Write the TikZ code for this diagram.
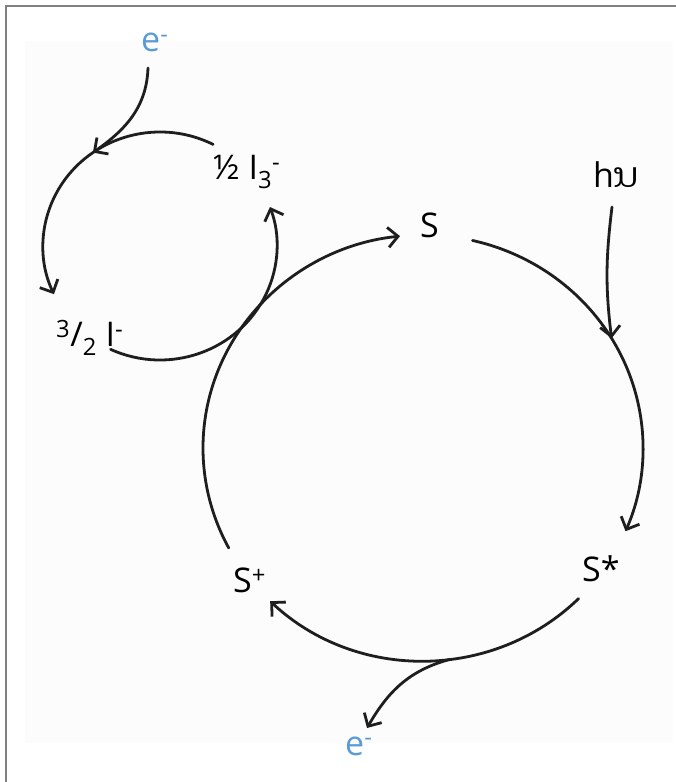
\documentclass[tikz,border=0pt]{standalone}
\usepackage{fontspec}
\setmainfont{Open Sans}
\newfontfamily\laofont[Script=Lao]{Dhyana}
\usepackage{xcolor}
\definecolor{elecblue}{RGB}{91,155,213}
\definecolor{inkgray}{RGB}{30,30,30}
\definecolor{framegray}{RGB}{128,128,128}
\definecolor{paper}{RGB}{252,252,253}
\usetikzlibrary{arrows.meta, calc}

\begin{document}
\begin{tikzpicture}[x=1pt, y=1pt,
        species/.style={inner sep=0pt, anchor=base west, font=\fontsize{34}{41}\selectfont},
        elec/.style={species, text=elecblue},
        cycline/.style={draw=inkgray, line width=2.8pt, line cap=round, -{Straight Barb[length=10pt, width=20pt]}}]

    % Marco y fondo
    \useasboundingbox (0,0) rectangle (676,782);
    \fill[paper] (25,39) rectangle (673,741);
    \draw[framegray, line width=2pt] (6,0) -- (6,776) -- (676,776);

    % Centros de los ciclos
    \coordinate (cmain) at (423,334);
    \coordinate (ciod) at (160,536);

    % Especies
    \node [species] (s) at (420,544) {S};
    \node [species] (hnu) at (593,594) {h{\laofont ນ}};
    \node [species] (sexc) at (582,200) {S*};
    \node [species] (splus) at (233,189) {S\textsuperscript{+}};
    \node [species] (triiod) at (213,602) {½ I\textsubscript{3}\textsuperscript{-}};
    \node [species] (iod) at (56,435) {\textsuperscript{3}/\textsubscript{2} I\textsuperscript{-}};
    \node [elec] (etop) at (141,730) {e\textsuperscript{-}};
    \node [elec] (ebot) at (345,27) {e\textsuperscript{-}};

    % Puntos sobre los ciclos
    \coordinate (mleft) at ($(cmain)+(208:220 and 213)$);
    \coordinate (mright) at ($(cmain)+(77:220 and 213)$);
    \coordinate (mbottom) at ($(cmain)+(-45:220 and 213)$);
    \coordinate (mlight) at ($(cmain)+(31:220 and 213)$);
    \coordinate (mout) at ($(cmain)+(-83:220 and 213)$);
    \coordinate (itop) at ($(ciod)+(63:117 and 114)$);
    \coordinate (ibottom) at ($(ciod)+(245:117 and 114)$);
    \coordinate (iin) at ($(ciod)+(125:117 and 114)$);
    \coordinate (etail) at (148,714);
    \coordinate (hnutail) at (612,575);
    \coordinate (eouttip) at (367,54);

    % Ciclo del colorante
    \draw [cycline] (mleft) arc[start angle=208, end angle=96, x radius=220pt, y radius=213pt];
    \draw [cycline] (mright) arc[start angle=77, end angle=-23, x radius=220pt, y radius=213pt];
    \draw [cycline] (mbottom) arc[start angle=-45, end angle=-134, x radius=220pt, y radius=213pt];

    % Ciclo del yoduro
    \draw [cycline] (itop) arc[start angle=63, end angle=205, x radius=117pt, y radius=114pt];
    \draw [cycline] (ibottom) arc[start angle=245, end angle=380, x radius=117pt, y radius=114pt];

    % Entradas y salidas
    \draw [cycline] (etail) to[out=-92, in=35] (iin);
    \draw [cycline] (hnutail) to[out=-97, in=97] (mlight);
    \draw [cycline] (mout) to[out=195, in=60] (eouttip);
\end{tikzpicture}
\end{document}
